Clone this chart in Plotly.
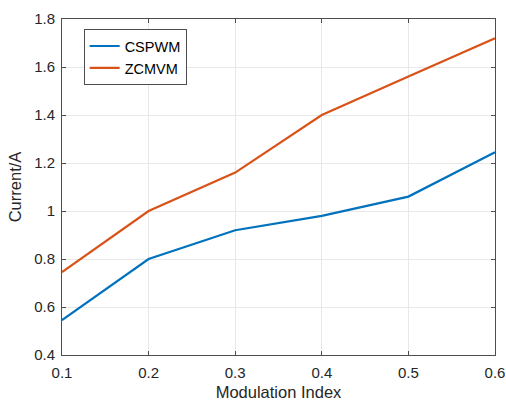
import plotly.graph_objects as go

x_vals = [0.1, 0.2, 0.3, 0.4, 0.5, 0.6]
cspwm = [0.545, 0.80, 0.92, 0.98, 1.06, 1.245]
zcmvm = [0.745, 1.00, 1.16, 1.40, 1.56, 1.72]
x_ticks = [0.1, 0.2, 0.3, 0.4, 0.5, 0.6]
y_ticks = [0.4, 0.6, 0.8, 1.0, 1.2, 1.4, 1.6, 1.8]
y_labels = ["0.4", "0.6", "0.8", "1", "1.2", "1.4", "1.6", "1.8"]

FONT = "Liberation Sans, Arial"

fig = go.Figure()
fig.add_trace(go.Scatter(x=x_vals, y=cspwm, mode="lines", name="CSPWM",
                         line=dict(color="#0072BD", width=2.2)))
fig.add_trace(go.Scatter(x=x_vals, y=zcmvm, mode="lines", name="ZCMVM",
                         line=dict(color="#D95319", width=2.2)))

axis_common = dict(
    showline=True, linecolor="#4d4d4d", linewidth=1, mirror="ticks",
    ticks="inside", ticklen=4, tickcolor="#4d4d4d",
    showgrid=True, gridcolor="#e8e8e8", gridwidth=1, zeroline=False,
    automargin=False,
    tickfont=dict(family=FONT, size=15, color="#262626"),
)

fig.update_xaxes(range=[0.1, 0.6], tickvals=x_ticks, ticktext=[str(t) for t in x_ticks],
                 ticklabelstandoff=4,
                 title=dict(text="Modulation Index", font=dict(family=FONT, size=16.5, color="#262626"), standoff=6),
                 **axis_common)
fig.update_yaxes(range=[0.4, 1.8], tickvals=y_ticks, ticktext=y_labels,
                 ticklabelstandoff=3,
                 title=dict(text="Current/A", font=dict(family=FONT, size=16.5, color="#262626"), standoff=8),
                 **axis_common)

fig.update_layout(
    width=506, height=405,
    margin=dict(l=62, r=11, t=19, b=50),
    plot_bgcolor="white", paper_bgcolor="white",
    showlegend=True,
    legend=dict(x=0.05, y=0.97, xanchor="left", yanchor="top",
                bgcolor="white", bordercolor="#4d4d4d", borderwidth=1,
                font=dict(family=FONT, size=14.5, color="#000000"),
                tracegroupgap=0),
)

fig.write_html("out.html")
